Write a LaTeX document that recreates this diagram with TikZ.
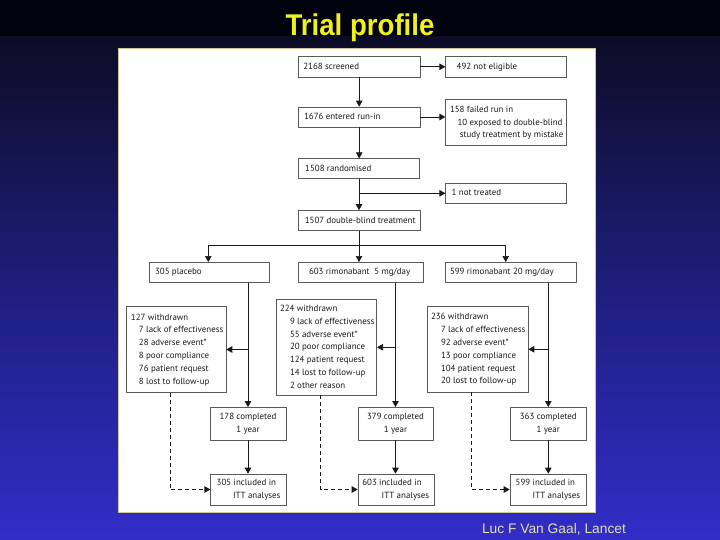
\documentclass[tikz,border=0pt]{standalone}
\usepackage{fontspec}
\setmainfont{PT Sans}
\newfontfamily\titlefont{Liberation Sans}
\usetikzlibrary{arrows.meta}
\definecolor{bgtop}{RGB}{2,2,14}
\definecolor{bgupper}{RGB}{12,12,38}
\definecolor{bgmid}{RGB}{30,30,125}
\definecolor{bgbot}{RGB}{50,45,200}
\definecolor{ttl}{RGB}{240,240,30}
\definecolor{foot}{RGB}{225,225,170}
\definecolor{ink}{RGB}{25,25,25}
\definecolor{edge}{RGB}{90,90,90}
\definecolor{paneledge}{RGB}{200,200,150}
\newcommand\lbox[3]{\makebox[#1][l]{\hspace*{#2}\begin{tabular}{@{}l@{}}#3\end{tabular}}}
\begin{document}
\begin{tikzpicture}[x=1pt,y=-1pt,
  box/.style={draw=edge, line width=0.6pt, fill=white, inner xsep=0pt, inner ysep=0pt,
              text=ink, font=\fontsize{8.9}{12.8}\selectfont},
  cbox/.style={box, align=center},
  arr/.style={draw=ink, line width=0.7pt, -{Triangle[length=6pt,width=6.5pt]}},
  ln/.style={draw=ink, line width=0.7pt},
  dsh/.style={arr, dash pattern=on 4pt off 3pt}]
\useasboundingbox (0,0) rectangle (720,540);
\fill[bgtop] (0,0) rectangle (720,37);
\shade[top color=bgupper, bottom color=bgbot, middle color=bgmid] (0,37) rectangle (720,540);
\draw[draw=paneledge, fill=white, line width=0.5pt] (118.5,48.5) rectangle (595,512);

\node[text=ttl, font=\titlefont\bfseries\fontsize{30}{30}\selectfont, xscale=0.92, anchor=base] (title) at (360,36) {Trial profile};
\node[text=foot, font=\titlefont\fontsize{13.8}{14}\selectfont, anchor=base] (foot) at (554,533) {Luc F Van Gaal, Lancet};

% top column
\node[box, minimum height=20.3pt] (scr) at (359.2,66.8) {\lbox{121.7pt}{5pt}{2168 screened}};
\node[box, minimum height=20.3pt] (nelig) at (506.2,66.8) {\lbox{121pt}{11pt}{492 not eligible}};
\node[box, minimum height=20pt] (runin) at (359.2,117) {\lbox{121.7pt}{5.7pt}{1676 entered run-in}};
\node[box, minimum height=46.4pt] (failed) at (506.2,122.5) {\lbox{121pt}{4.3pt}{158 failed run in\\\hspace*{7.5pt}10 exposed to double-blind\\\hspace*{9.8pt}study treatment by mistake}};
\node[box, minimum height=20pt] (rand) at (359,168.7) {\lbox{121pt}{6.7pt}{1508 randomised}};
\node[box, minimum height=20pt] (nt) at (506.2,193.3) {\lbox{121pt}{6pt}{1 not treated}};
\node[box, minimum height=20pt] (dbt) at (359,220.5) {\lbox{121.7pt}{6.7pt}{1507 double-blind treatment}};

% groups
\node[box, minimum height=20pt] (plac) at (209.2,272.3) {\lbox{120.3pt}{6pt}{305 placebo}};
\node[box, minimum height=20pt] (r5) at (361,272.3) {\lbox{124.6pt}{10.3pt}{603 rimonabant\ \ 5 mg/day}};
\node[box, minimum height=20pt] (r20) at (511,272.3) {\lbox{131.4pt}{4.7pt}{599 rimonabant 20 mg/day}};

% withdrawn
\node[box, minimum height=85.6pt] (wA) at (176.3,349.5) {\lbox{99.3pt}{4.3pt}{127 withdrawn\\\hspace*{8pt}7 lack of effectiveness\\\hspace*{8pt}28 adverse event*\\\hspace*{8pt}8 poor compliance\\\hspace*{8pt}76 patient request\\\hspace*{8pt}8 lost to follow-up}};
\node[box, minimum height=95.3pt] (wB) at (326.7,347.3) {\lbox{100pt}{3.3pt}{224 withdrawn\\\hspace*{10pt}9 lack of effectiveness\\\hspace*{10pt}55 adverse event*\\\hspace*{10pt}20 poor compliance\\\hspace*{10pt}124 patient request\\\hspace*{10pt}14 lost to follow-up\\\hspace*{10pt}2 other reason}};
\node[box, minimum height=85.3pt] (wC) at (477.5,349.3) {\lbox{101pt}{4pt}{236 withdrawn\\\hspace*{10pt}7 lack of effectiveness\\\hspace*{10pt}92 adverse event*\\\hspace*{10pt}13 poor compliance\\\hspace*{10pt}104 patient request\\\hspace*{10pt}20 lost to follow-up}};

% completed
\node[cbox, minimum width=76pt, minimum height=32.7pt] (cA) at (248,423.7) {178 completed\\1 year};
\node[cbox, minimum width=75pt, minimum height=32.7pt] (cB) at (395.5,423.7) {379 completed\\1 year};
\node[cbox, minimum width=75.3pt, minimum height=32.7pt] (cC) at (548.3,423.7) {363 completed\\1 year};

% included
\node[box, minimum height=31pt] (iA) at (248.7,489.5) {\lbox{76pt}{6pt}{305 included in\\\hspace*{16.3pt}ITT analyses}};
\node[box, minimum height=31pt] (iB) at (396,489.5) {\lbox{76pt}{4.3pt}{603 included in\\\hspace*{19.4pt}ITT analyses}};
\node[box, minimum height=31pt] (iC) at (548,489.5) {\lbox{76pt}{5.7pt}{599 included in\\\hspace*{17pt}ITT analyses}};

% connectors
\draw[arr] (scr.east) -- (nelig.west);
\draw[arr] (scr.south) -- (runin.north);
\draw[arr] (runin.east) -- (runin.east -| failed.west);
\draw[arr] (runin.south) -- (runin.south |- rand.north);
\draw[arr] (rand.south) -- (rand.south |- dbt.north);
\draw[arr] (rand.south |- nt.west) -- (nt.west);

\coordinate (bl) at (208.3,245.7);
\coordinate (brr) at (505.7,245.7);
\draw[ln] (dbt.south) -- (dbt.south |- bl);
\draw[ln] (bl) -- (brr);
\draw[arr] (bl) -- (bl |- plac.north);
\draw[arr] (dbt.south |- bl) -- (dbt.south |- r5.north);
\draw[arr] (brr) -- (brr |- r20.north);

\draw[arr] (plac.south -| cA.north) -- (cA.north);
\draw[arr] (r5.south -| cB.north) -- (cB.north);
\draw[arr] (r20.south -| cC.north) -- (cC.north);

\draw[arr] (wA.east -| cA.north) -- (wA.east);
\draw[arr] (wB.east -| cB.north) -- (wB.east);
\draw[arr] (wC.east -| cC.north) -- (wC.east);

\draw[arr] (cA.south) -- (cA.south |- iA.north);
\draw[arr] (cB.south) -- (cB.south |- iB.north);
\draw[arr] (cC.south) -- (cC.south |- iC.north);

\draw[dsh] ([xshift=-6pt]wA.south) |- (iA.west);
\draw[dsh] ([xshift=-6pt]wB.south) |- (iB.west);
\draw[dsh] ([xshift=-6pt]wC.south) |- (iC.west);
\end{tikzpicture}
\end{document}
